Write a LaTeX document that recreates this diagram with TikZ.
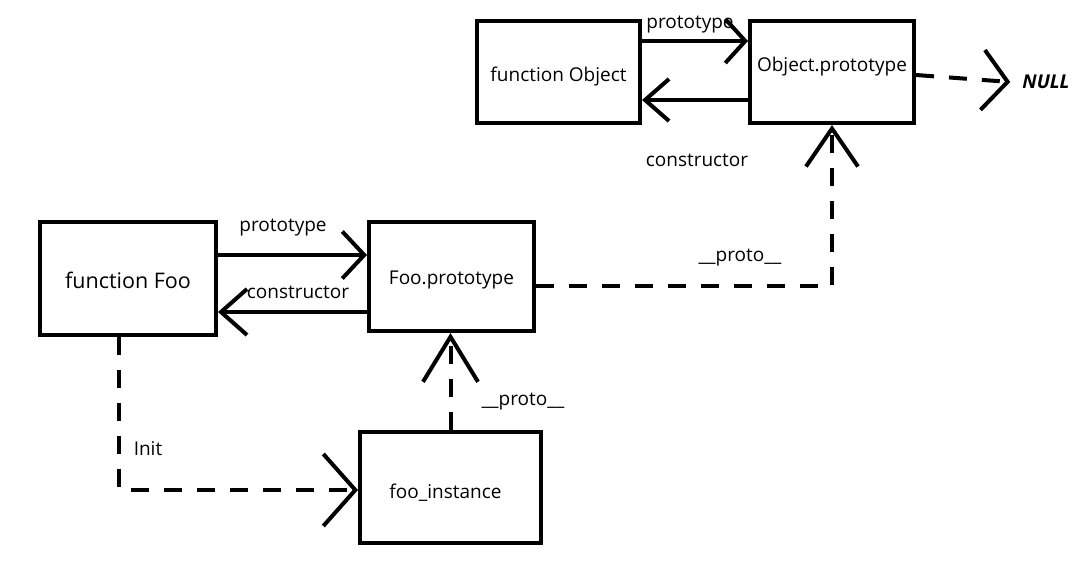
\documentclass[tikz,border=0pt]{standalone}
\usepackage{fontspec}
\setmainfont{Open Sans}
\usetikzlibrary{arrows.meta}
\newcommand{\vmove}[2]{\raisebox{#1}[\height][\depth]{#2}}
\begin{document}
\begin{tikzpicture}[x=1pt,y=-1pt,
  box/.style={draw,line width=4pt,inner sep=0pt,font=\fontsize{19}{22}\selectfont},
  lbl/.style={inner sep=0pt,font=\fontsize{19}{22}\selectfont},
  conn/.style={line width=3.5pt},
  dconn/.style={line width=4pt,dash pattern=on 18pt off 15pt},
  tip/.style 2 args={-{Straight Barb[length=#1,width=#2,line width=4pt]}}
]
\useasboundingbox[fill=white] (0,0) rectangle (1077,571);
% boxes
\node[box,minimum width=163pt,minimum height=102pt] (fo) at (558.5,72) {\vmove{-5pt}{function Object}};
\node[box,minimum width=164pt,minimum height=102pt] (op) at (832,72) {\vmove{5pt}{Object.prototype}};
\node[box,minimum width=176pt,minimum height=113pt,font=\fontsize{21.5}{24}\selectfont] (ff) at (128,278.5) {\vmove{-2pt}{function Foo}};
\node[box,minimum width=165pt,minimum height=109pt] (fp) at (451.5,276.5) {\vmove{-3pt}{Foo.prototype}};
\node[box,minimum width=181pt,minimum height=111pt] (fi) at (450.5,487.5) {\hspace*{-10pt}\vmove{-5pt}{foo\_instance}};
\node[inner sep=0pt,font=\fontsize{19}{22}\selectfont\bfseries\itshape] (null) at (1046,82) {NULL};
% labels
\node[lbl] (l1) at (690,25) {prototype};
\node[lbl] (l2) at (697,160) {constructor};
\node[lbl] (l3) at (740,258) {\_\_proto\_\_};
\node[lbl] (l4) at (283,228) {prototype};
\node[lbl] (l5) at (298,292) {constructor};
\node[lbl] (l6) at (523,402) {\_\_proto\_\_};
\node[lbl] (l7) at (148,449) {Init};
% connectors
\draw[conn,tip={20pt}{44pt}] (fo.east |- 0,41) -- (op.west |- 0,41);
\draw[conn,tip={24pt}{42pt}] (op.west |- 0,100) -- (fo.east |- 0,100);
\draw[dconn,tip={25pt}{60pt}] (op.east |- 0,75) -- ([xshift=-12pt]null.west);
\draw[dconn,tip={38pt}{52pt}] (fp.east |- 0,286) -| (op.south);
\draw[conn,tip={22pt}{47pt}] (ff.east |- 0,255) -- (fp.west |- 0,255);
\draw[conn,tip={26pt}{46pt}] (fp.west |- 0,312) -- (ff.east |- 0,312);
\draw[dconn,tip={45pt}{55pt}] (fi.north) -- (fi.north |- fp.south);
\draw[dconn,tip={32pt}{72pt}] (ff.south -| 119,0) |- (fi.west |- 0,490);
\end{tikzpicture}
\end{document}
